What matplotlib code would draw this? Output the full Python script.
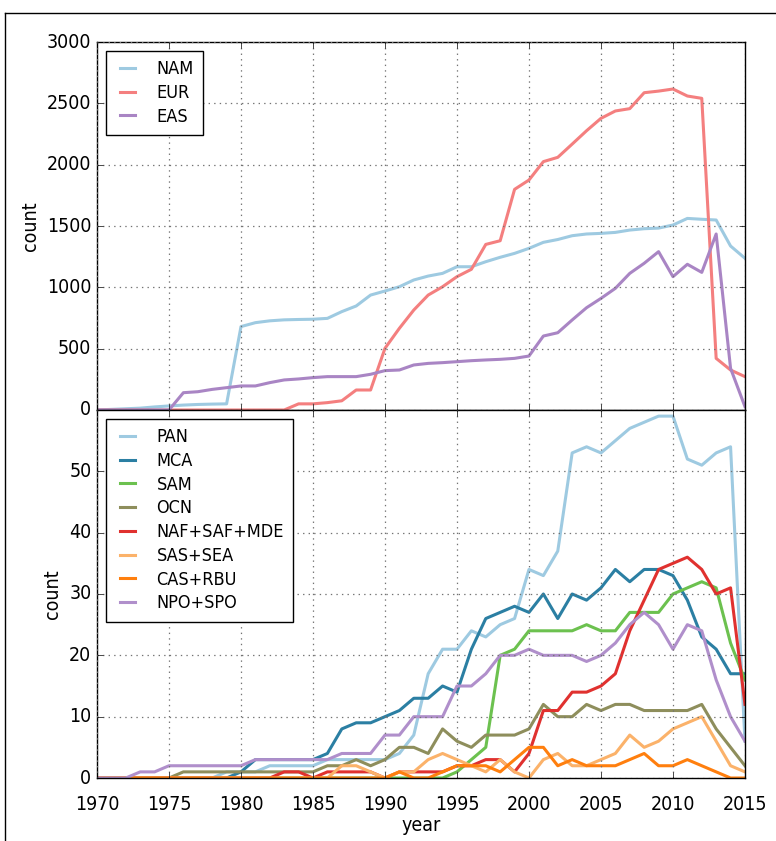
import matplotlib
matplotlib.use('Agg')
import matplotlib.pyplot as plt
from matplotlib.lines import Line2D
import numpy as np

years = np.arange(1970, 2016)

# top panel
top_labels = ['NAM', 'EUR', 'EAS']
nam = [0, 5, 10, 15, 25, 33, 40, 45, 48, 50, 680, 712, 727, 735, 738, 740, 747, 802, 848, 937,
       970, 1005, 1060, 1092, 1114, 1168, 1168, 1209, 1245, 1277, 1318, 1367, 1390, 1421, 1435, 1440,
       1448, 1467, 1478, 1483, 1508, 1562, 1555, 1549, 1337, 1237]
eur = [0, 0, 0, 0, 0, 0, 0, 0, 0, 0, 0, 0, 0, 0, 50, 50, 60, 75, 163, 163,
       503, 666, 815, 937, 1005, 1087, 1147, 1350, 1380, 1799, 1875, 2025, 2060, 2168, 2277, 2378,
       2438, 2457, 2587, 2600, 2617, 2560, 2541, 421, 326, 272]
eas = [0, 0, 0, 0, 0, 0, 141, 149, 168, 182, 196, 196, 223, 245, 253, 264, 272, 272, 272, 291,
       321, 326, 367, 380, 386, 394, 402, 408, 413, 421, 440, 603, 630, 734, 834, 910,
       992, 1114, 1196, 1291, 1087, 1188, 1122, 1435, 340, 27]

# bottom panel
bottom_labels = ['PAN', 'MCA', 'SAM', 'OCN', 'NAF+SAF+MDE', 'SAS+SEA', 'CAS+RBU', 'NPO+SPO']
pan = [0, 0, 0, 0, 0, 0, 0, 0, 0, 1, 1, 1, 2, 2, 2, 2, 3, 3, 3, 3,
       3, 4, 7, 17, 21, 21, 24, 23, 25, 26, 34, 33, 37, 53, 54, 53,
       55, 57, 58, 59, 59, 52, 51, 53, 54, 6]
mca = [0, 0, 0, 0, 0, 0, 0, 0, 0, 0, 1, 3, 3, 3, 3, 3, 4, 8, 9, 9,
       10, 11, 13, 13, 15, 14, 21, 26, 27, 28, 27, 30, 26, 30, 29, 31,
       34, 32, 34, 34, 33, 29, 23, 21, 17, 17]
sam = [0, 0, 0, 0, 0, 0, 0, 0, 0, 0, 0, 0, 0, 0, 0, 0, 0, 0, 0, 0,
       0, 0, 0, 0, 0, 1, 3, 5, 20, 21, 24, 24, 24, 24, 25, 24,
       24, 27, 27, 27, 30, 31, 32, 31, 22, 16]
ocn = [0, 0, 0, 0, 0, 0, 1, 1, 1, 1, 1, 1, 1, 1, 1, 1, 2, 2, 3, 2,
       3, 5, 5, 4, 8, 6, 5, 7, 7, 7, 8, 12, 10, 10, 12, 11,
       12, 12, 11, 11, 11, 11, 12, 8, 5, 2]
naf = [0, 0, 0, 0, 0, 0, 0, 0, 0, 0, 0, 0, 0, 1, 1, 0, 1, 1, 1, 1,
       0, 1, 1, 1, 1, 2, 2, 3, 3, 1, 4, 11, 11, 14, 14, 15,
       17, 24, 29, 34, 35, 36, 34, 30, 31, 12]
sas = [0, 0, 0, 0, 0, 0, 0, 0, 0, 0, 0, 0, 0, 0, 0, 0, 0, 2, 2, 1,
       0, 1, 1, 3, 4, 3, 2, 1, 3, 1, 0, 3, 4, 2, 2, 3,
       4, 7, 5, 6, 8, 9, 10, 6, 2, 1]
cas = [0, 0, 0, 0, 0, 0, 0, 0, 0, 0, 0, 0, 0, 0, 0, 0, 0, 0, 0, 0,
       0, 1, 0, 0, 1, 2, 2, 2, 1, 3, 5, 5, 2, 3, 2, 2,
       2, 3, 4, 2, 2, 3, 2, 1, 0, 0]
npo = [0, 0, 0, 1, 1, 2, 2, 2, 2, 2, 2, 3, 3, 3, 3, 3, 3, 4, 4, 4,
       7, 7, 10, 10, 10, 15, 15, 17, 20, 20, 21, 20, 20, 20, 19, 20,
       22, 25, 27, 25, 21, 25, 24, 16, 10, 6]

top_colors = ['#9ecae1', '#f47f7f', '#a985c4']
bottom_colors = ['#9ecae1', '#2b7fa3', '#6cc14f', '#8e8e5c', '#e0312f', '#fbb26a', '#ff7f0e', '#b08fcb']

plt.style.use('classic')
plt.rcParams['figure.facecolor'] = 'white'
plt.rcParams['savefig.facecolor'] = 'white'
plt.rcParams['font.family'] = 'DejaVu Sans'
plt.rcParams['font.stretch'] = 'condensed'
plt.rcParams['axes.formatter.useoffset'] = False

fig = plt.figure(figsize=(7.76, 8.41), dpi=100)
ax1 = fig.add_axes([0.125, 0.5125, 0.835, 0.4375])
ax2 = fig.add_axes([0.125, 0.0749, 0.835, 0.4376], sharex=ax1)

for vals, lab, c in zip([nam, eur, eas], top_labels, top_colors):
    ax1.plot(years, vals, color=c, lw=2.2, label=lab)

bottom_series = [pan, mca, sam, ocn, naf, sas, cas, npo]
for vals, lab, c in zip(bottom_series, bottom_labels, bottom_colors):
    ax2.plot(years, vals, color=c, lw=2.2, label=lab)

ax1.set_xlim(1970, 2015)
ax1.set_ylim(0, 3000)
ax1.set_yticks(np.arange(0, 3001, 500))
ax2.set_ylim(0, 60)
ax2.set_yticks(np.arange(0, 51, 10))
ax2.set_xticks(np.arange(1970, 2016, 5))
plt.setp(ax1.get_xticklabels(), visible=False)

for ax in (ax1, ax2):
    ax.grid(True, color='0.45', linestyle=':', linewidth=0.9)
    ax.set_ylabel('count', fontsize=14)
    ax.tick_params(labelsize=14)

ax2.tick_params(axis='x', pad=12)
ax2.set_xlabel('year', fontsize=14, labelpad=2)

leg_kw = dict(loc='upper left', fontsize=13, handlelength=1.4, handletextpad=0.9,
              borderpad=0.5, labelspacing=0.32, borderaxespad=0.5)
ax1.legend(**leg_kw)
ax2.legend(**leg_kw)

# frame lines seen at left and top of the picture
fig.add_artist(Line2D([0.0065, 0.0065], [0, 1 - 13 / 841], transform=fig.transFigure, color='k', lw=1))
fig.add_artist(Line2D([0.0065, 1], [1 - 13 / 841, 1 - 13 / 841], transform=fig.transFigure, color='k', lw=1))

plt.savefig('out.png', dpi=100)
plt.close()
